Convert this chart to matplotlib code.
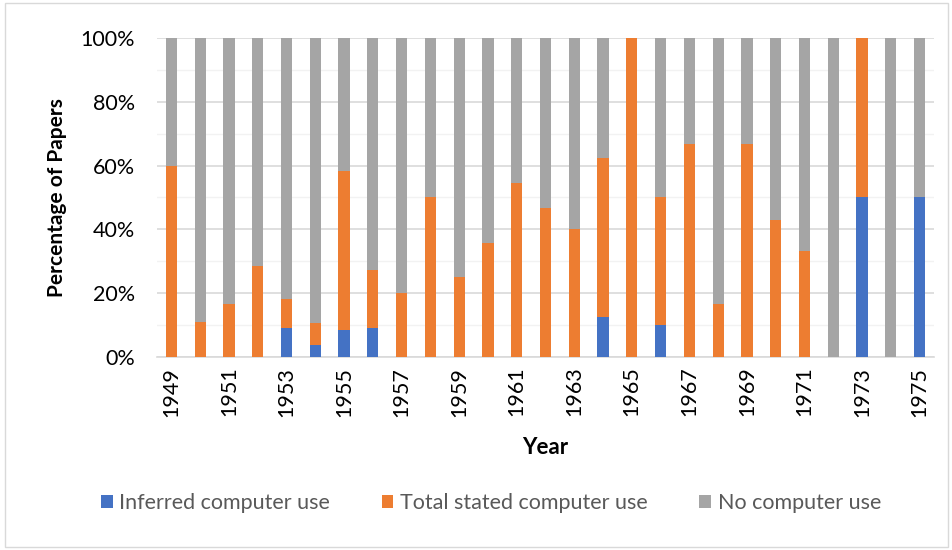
import matplotlib
matplotlib.use("Agg")
import matplotlib.pyplot as plt
from matplotlib.patches import Rectangle
from matplotlib.ticker import MultipleLocator, PercentFormatter
import numpy as np

years = list(range(1949, 1976))
# percentages
inferred = [0, 0, 0, 0, 9.1, 3.6, 8.3, 9.1, 0, 0, 0, 0, 0, 0, 0, 12.5, 0, 10.0,
            0, 0, 0, 0, 0, 0, 50.0, 0, 50.0]
stated = [60.0, 11.1, 16.7, 28.6, 9.1, 7.1, 50.0, 18.2, 20.0, 50.0, 25.0, 35.7, 54.5,
          46.7, 40.0, 50.0, 100.0, 40.0, 66.7, 16.7, 66.7, 42.9, 33.3, 0, 50.0, 0, 0]
no_use = [100 - a - b for a, b in zip(inferred, stated)]

series_names = ["Inferred computer use", "Total stated computer use", "No computer use"]
colors = ["#4472C4", "#ED7D31", "#A5A5A5"]

plt.rcParams["font.family"] = ["Lato", "DejaVu Sans"]

fig = plt.figure(figsize=(9.53, 5.5), dpi=100)
ax = fig.add_axes([0.1647, 0.351, 0.8153, 0.58])

x = np.arange(len(years))
width = 0.39
bottom = np.zeros(len(years))
for vals, name, color in zip([inferred, stated, no_use], series_names, colors):
    ax.bar(x, vals, width, bottom=bottom, color=color, label=name, zorder=3)
    bottom += np.array(vals)

ax.set_xlim(-0.5, len(years) - 0.5)
ax.set_ylim(0, 100)
ax.yaxis.set_major_locator(MultipleLocator(20))
ax.yaxis.set_minor_locator(MultipleLocator(10))
ax.yaxis.set_major_formatter(PercentFormatter(decimals=0))
ax.grid(axis="y", which="major", color="#D9D9D9", linewidth=1.2, zorder=0)
ax.grid(axis="y", which="minor", color="#F2F2F2", linewidth=1.0, zorder=0)
ax.set_xticks(x[::2])
ax.set_xticklabels([str(y) for y in years[::2]], rotation=90, fontsize=15.5)
ax.tick_params(axis="y", labelsize=15.5, length=0, pad=16, which="both")
ax.tick_params(axis="x", length=0, pad=7)
for side in ["left", "right", "top"]:
    ax.spines[side].set_visible(False)
ax.spines["bottom"].set_color("#D9D9D9")
ax.spines["bottom"].set_linewidth(1.2)

ax.set_ylabel("Percentage of Papers", fontsize=15, fontweight="bold")
ax.yaxis.set_label_coords(-0.116, 0.5)
ax.set_xlabel("Year", fontsize=16, fontweight="bold")
ax.xaxis.set_label_coords(0.5, -0.252)

fig.legend(loc="center", bbox_to_anchor=(0.515, 0.085), ncol=3, frameon=False,
           fontsize=15.5, handlelength=0.55, handleheight=0.55, handletextpad=0.3,
           columnspacing=2.4, labelcolor="#595959")

fig.patches.append(Rectangle((0.005, 0.005), 0.99, 0.99, transform=fig.transFigure,
                             fill=False, edgecolor="#D9D9D9", linewidth=1.0))

fig.savefig("out.png", dpi=100)
